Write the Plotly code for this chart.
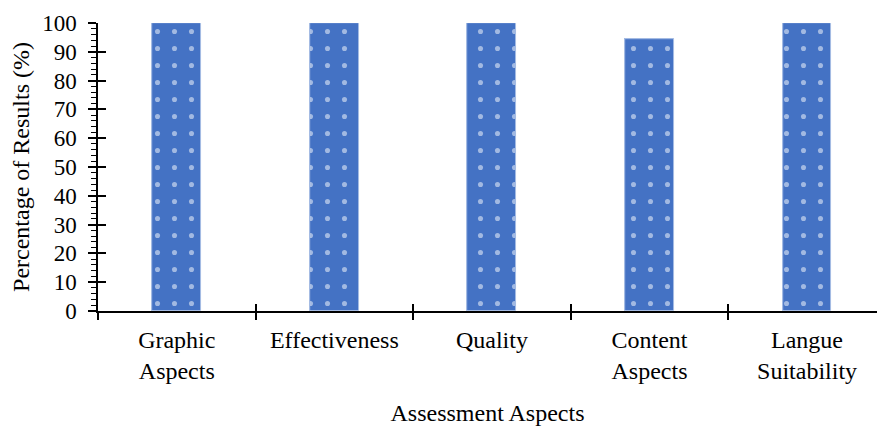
import plotly.graph_objects as go

categories = ["Graphic<br>Aspects", "Effectiveness", "Quality", "Content<br>Aspects", "Langue<br>Suitability"]
percentages = [100, 100, 100, 94.4, 100]

x_title = "Assessment Aspects"
y_title = "Percentage of Results (%)"

bar_color = "#4472C4"
font_family = "Liberation Serif, Times New Roman, serif"
x_range = [-0.5, 4.444]
y_range = [0, 100]

fig = go.Figure()

fig.add_trace(go.Bar(
    x=categories,
    y=percentages,
    width=0.31,
    marker=dict(
        color=bar_color,
        line=dict(color="#7f9fd8", width=1),
        pattern=dict(shape=".", fgcolor="white", bgcolor=bar_color, size=17, solidity=0.07),
    ),
    hoverinfo="skip",
))

# transparent copy on the overlay axes so their category ticks are generated
fig.add_trace(go.Bar(
    x=categories,
    y=percentages,
    width=0.31,
    xaxis="x2",
    yaxis="y2",
    marker=dict(color="rgba(0,0,0,0)"),
    hoverinfo="skip",
    showlegend=False,
))

label_font = dict(family=font_family, size=24, color="black")
tick_font = dict(family=font_family, size=23, color="black")

fig.update_layout(
    width=877,
    height=426,
    margin=dict(l=98, r=0, t=23, b=115),
    paper_bgcolor="white",
    plot_bgcolor="white",
    showlegend=False,
    bargap=0,
    font=label_font,
    xaxis=dict(
        type="category",
        categoryorder="array",
        categoryarray=categories,
        range=x_range,
        showline=True,
        linecolor="black",
        linewidth=1.5,
        ticks="outside",
        tickson="boundaries",
        ticklen=7,
        tickwidth=1.5,
        tickcolor="black",
        showgrid=False,
        tickfont=label_font,
        ticklabelstandoff=6,
        title=dict(text=x_title, font=label_font, standoff=24),
    ),
    yaxis=dict(
        range=y_range,
        dtick=10,
        showline=True,
        linecolor="black",
        linewidth=1.5,
        ticks="outside",
        ticklen=8,
        tickwidth=1.5,
        tickcolor="black",
        showgrid=False,
        zeroline=False,
        tickfont=tick_font,
        ticklabelstandoff=7,
        minor=dict(dtick=2, ticks="outside", ticklen=5, tickwidth=1.2, tickcolor="black", showgrid=False),
        title=dict(text=y_title, font=label_font, standoff=6),
    ),
    xaxis2=dict(
        type="category",
        categoryorder="array",
        categoryarray=categories,
        range=x_range,
        overlaying="x",
        side="bottom",
        anchor="y2",
        ticks="inside",
        tickson="boundaries",
        ticklen=7,
        tickwidth=1.5,
        tickcolor="black",
        showticklabels=False,
        showgrid=False,
        showline=False,
    ),
    yaxis2=dict(
        range=y_range,
        dtick=10,
        overlaying="y",
        side="left",
        anchor="x2",
        ticks="inside",
        ticklen=8,
        tickwidth=1.5,
        tickcolor="black",
        showticklabels=False,
        showgrid=False,
        zeroline=False,
        showline=False,
    ),
)

fig.write_html("out.html")
